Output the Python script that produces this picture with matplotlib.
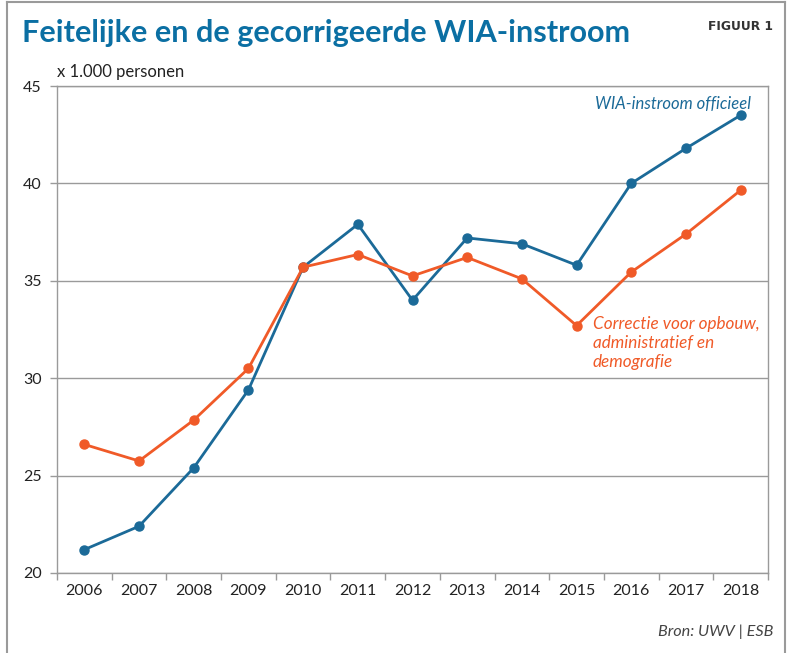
"""Feitelijke en gecorrigeerde WIA-instroom, 2006-2018."""
import matplotlib
matplotlib.use("Agg")
import matplotlib.pyplot as plt
from matplotlib.lines import Line2D

years = ["2006", "2007", "2008", "2009", "2010", "2011", "2012",
         "2013", "2014", "2015", "2016", "2017", "2018"]
wia_officieel = [21.2, 22.4, 25.4, 29.4, 35.7, 37.9, 34.0,
                 37.2, 36.9, 35.8, 40.0, 41.8, 43.5]
wia_gecorrigeerd = [26.6, 25.75, 27.85, 30.5, 35.7, 36.35, 35.25,
                    36.2, 35.1, 32.7, 35.45, 37.4, 39.65]

BLUE = "#1b6a98"
TITLE_BLUE = "#0b6fa3"
ORANGE = "#f05a28"
GREY = "#9a9a9a"
TEXT = "#222222"

plt.rcParams["font.family"] = ["Lato", "DejaVu Sans"]

fig = plt.figure(figsize=(7.95, 6.53), dpi=100)
ax = fig.add_axes([57 / 795, 1 - 573 / 653, 711 / 795, 487 / 653])

x = range(len(years))
ax.plot(x, wia_officieel, color=BLUE, lw=2.0, marker="o", ms=6.5,
        solid_capstyle="round", zorder=3)
ax.plot(x, wia_gecorrigeerd, color=ORANGE, lw=2.0, marker="o", ms=6.5,
        solid_capstyle="round", zorder=3)

ax.set_xlim(-0.5, len(years) - 0.5)
ax.set_ylim(20, 45)
ax.set_yticks([20, 25, 30, 35, 40, 45])
ax.set_xticks([i - 0.5 for i in range(len(years) + 1)])
ax.set_xticklabels([])
ax.set_xticks(list(x), minor=True)
ax.set_xticklabels(years, minor=True)
ax.tick_params(axis="x", which="major", length=5, color=GREY, width=1)
ax.tick_params(axis="x", which="minor", length=0, pad=8,
               labelsize=11.5, labelcolor=TEXT)
ax.tick_params(axis="y", length=5, color=GREY, width=1, pad=6,
               labelsize=11.5, labelcolor=TEXT)
ax.grid(axis="y", color=GREY, lw=1)
ax.set_axisbelow(True)
for sp in ax.spines.values():
    sp.set_color(GREY)
    sp.set_linewidth(1)

ax.text(12.19, 44.1, "WIA-instroom officieel", color=BLUE, fontsize=12,
        style="italic", ha="right", va="center")
ax.text(9.3, 31.8, "Correctie voor opbouw,\nadministratief en\ndemografie",
        color=ORANGE, fontsize=12.3, style="italic", ha="left", va="center",
        linespacing=1.25)

fig.text(22 / 795, 1 - 33 / 653, "Feitelijke en de gecorrigeerde WIA-instroom",
         color=TITLE_BLUE, fontsize=22.1, fontweight="bold", va="center")
fig.text(773 / 795, 1 - 26 / 653, "FIGUUR 1", color="#333333",
         fontsize=8.8, fontweight="bold", family="DejaVu Sans",
         ha="right", va="center")
fig.text(57 / 795, 1 - 72 / 653, "x 1.000 personen", color=TEXT,
         fontsize=12, va="center")
fig.text(773 / 795, 1 - 632 / 653, "Bron: UWV | ESB", color="#444444",
         fontsize=11.7, style="italic", ha="right", va="center")

# outer frame, open at the bottom
for xs, ys in [([7, 7], [653, 2]), ([7, 785], [2, 2]), ([785, 785], [2, 653])]:
    fig.add_artist(Line2D([v / 795 for v in xs], [1 - v / 653 for v in ys],
                          color=GREY, lw=1.5))

fig.savefig("out.png", dpi=100)
